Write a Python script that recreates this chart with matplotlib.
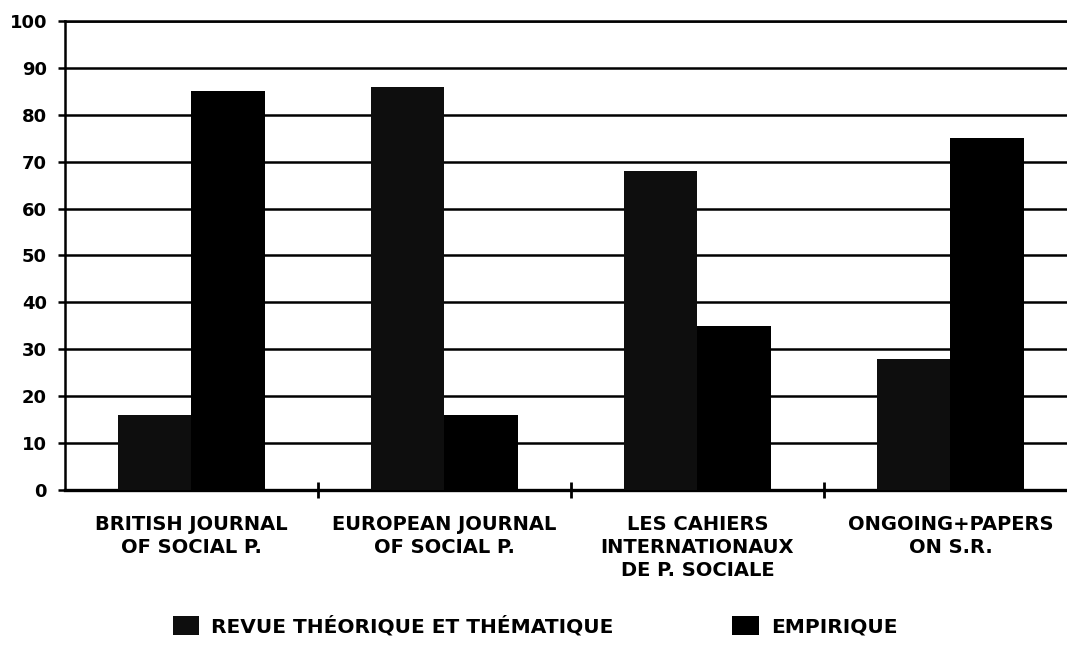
import matplotlib
matplotlib.use("Agg")
import matplotlib.pyplot as plt
import numpy as np

categories = ["BRITISH JOURNAL\nOF SOCIAL P.",
              "EUROPEAN JOURNAL\nOF SOCIAL P.",
              "LES CAHIERS\nINTERNATIONAUX\nDE P. SOCIALE",
              "ONGOING+PAPERS\nON S.R."]
series_names = ["REVUE THÉORIQUE ET THÉMATIQUE", "EMPIRIQUE"]
theorique = [16, 86, 68, 28]
empirique = [85, 16, 35, 75]
yticks = [0, 10, 20, 30, 40, 50, 60, 70, 80, 90, 100]

plt.rcParams['font.family'] = ['DejaVu Sans']
plt.rcParams['font.weight'] = 'bold'

fig = plt.figure(figsize=(10.67, 6.46), dpi=100)
ax = fig.add_axes([65/1067, (646-490)/646, 1012/1067, 469/646])

x = np.arange(len(categories))
w = 0.29
b1 = ax.bar(x - w/2, theorique, w, color='#0e0e0e', zorder=3, label=series_names[0])
b2 = ax.bar(x + w/2, empirique, w, color='#000000', zorder=3, label=series_names[1])

ax.set_xlim(-0.5, 3.5)
ax.set_ylim(0, 100)
ax.set_yticks(yticks)
ax.set_yticklabels([str(v) for v in yticks], fontsize=13, fontweight='bold')
ax.yaxis.grid(True, color='black', linewidth=1.8, zorder=1)
ax.set_axisbelow(True)

ax.set_xticks(x)
ax.set_xticklabels(categories, fontsize=14, fontweight='bold', linespacing=1.25)
ax.tick_params(axis='x', which='major', length=0, pad=18)
ax.set_xticks([0.5, 1.5, 2.5], minor=True)
ax.tick_params(axis='x', which='minor', direction='inout', length=11, width=2, color='black')
ax.tick_params(axis='y', direction='out', length=5, width=1.8, pad=8)

for s in ['left', 'bottom', 'top']:
    ax.spines[s].set_linewidth(1.8)
    ax.spines[s].set_color('black')
ax.spines['bottom'].set_linewidth(2.4)
ax.spines['right'].set_visible(False)

leg = fig.legend(handles=[b1, b2], labels=series_names, loc='center left',
                 bbox_to_anchor=(173/1067, 20/646), ncol=2, frameon=False,
                 prop={'size': 14.5, 'weight': 'bold'}, handlelength=1.3,
                 handleheight=1.1, handletextpad=0.6, columnspacing=5.9,
                 borderpad=0, borderaxespad=0)

fig.savefig("out.png", dpi=100)
